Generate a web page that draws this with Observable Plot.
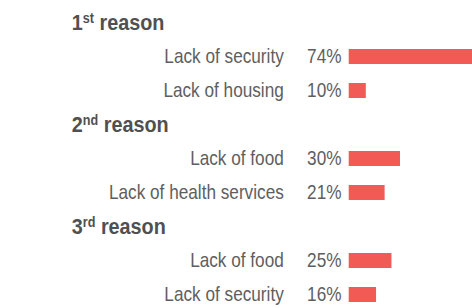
<!DOCTYPE html>
<html>
<head>
<meta charset="utf-8">
<script src="https://cdn.jsdelivr.net/npm/d3@7"></script>
<script src="https://cdn.jsdelivr.net/npm/@observablehq/plot@0.6"></script>
<style>
  body { margin: 0; background: #fff; }
  #chart svg { display: block; }
</style>
</head>
<body>
<div id="chart"></div>
<script>
// ---- data ----
const groupNumbers = ["1", "2", "3"];
const groupSuffixes = ["st", "nd", "rd"];
const groupWord = "reason";
const reasons = ["Lack of security", "Lack of housing", "Lack of food", "Lack of health services", "Lack of food", "Lack of security"];
const reasonGroup = [0, 0, 1, 1, 2, 2];
const percents = [74, 10, 30, 21, 25, 16];

// ---- rows (heading row followed by its items) ----
const rows = [];
groupNumbers.forEach((n, g) => {
  rows.push({key: "h" + g, type: "head", num: n, sup: groupSuffixes[g], word: groupWord,
             label: n + groupSuffixes[g] + " " + groupWord});
  reasons.forEach((r, i) => {
    if (reasonGroup[i] === g) rows.push({key: "r" + i, type: "item", label: r, value: percents[i]});
  });
});
const heads = rows.filter(d => d.type === "head");
const items = rows.filter(d => d.type === "item");

const labelColor = "#5e5e5e";
const headColor = "#505050";

const chart = Plot.plot({
  width: 472,
  height: 308,
  margin: 0,
  style: {fontFamily: "'Liberation Sans', Arial, Helvetica, sans-serif", background: "white", overflow: "hidden"},
  x: {domain: [0, 100], range: [348.7, 519.7], axis: null},
  y: {domain: rows.map(d => d.key), range: [2.6, 313.8], paddingInner: 0.566, paddingOuter: 0.283, align: 0.5, axis: null},
  marks: [
    Plot.barX(items, {x: "value", y: "key", fill: "#f15a55"}),
    Plot.text(items, {x: 0, y: "key", text: "label", textAnchor: "end", dx: -65.4, fontSize: 20, fill: labelColor}),
    Plot.text(items, {x: 0, y: "key", text: d => d.value + "%", textAnchor: "end", dx: -7.7, fontSize: 20, fill: labelColor}),
    Plot.text(heads, {x: 0, y: "key", text: "label", textAnchor: "start", dx: -277.4, fontSize: 22, fontWeight: "bold", fill: headColor})
  ]
});

document.getElementById("chart").appendChild(chart);

// horizontally condensed lettering, as in the reference
d3.select(chart).selectAll('g[aria-label="text"] text').each(function () {
  const bold = this.parentNode.getAttribute("font-weight") === "bold";
  const t = this.getAttribute("transform") || "";
  this.setAttribute("transform", t + ` scale(${bold ? 0.9 : 0.86},1)`);
});

// superscript ordinal suffixes in headings
d3.select(chart).selectAll('g[font-weight="bold"] text').each(function (i) {
  const h = heads[i];
  if (!h) return;
  const sel = d3.select(this);
  sel.text(null);
  sel.append("tspan").text(h.num);
  sel.append("tspan").attr("font-size", 14).attr("dy", -7.5).text(h.sup);
  sel.append("tspan").attr("dy", 7.5).text(" " + h.word);
});
</script>
</body>
</html>
